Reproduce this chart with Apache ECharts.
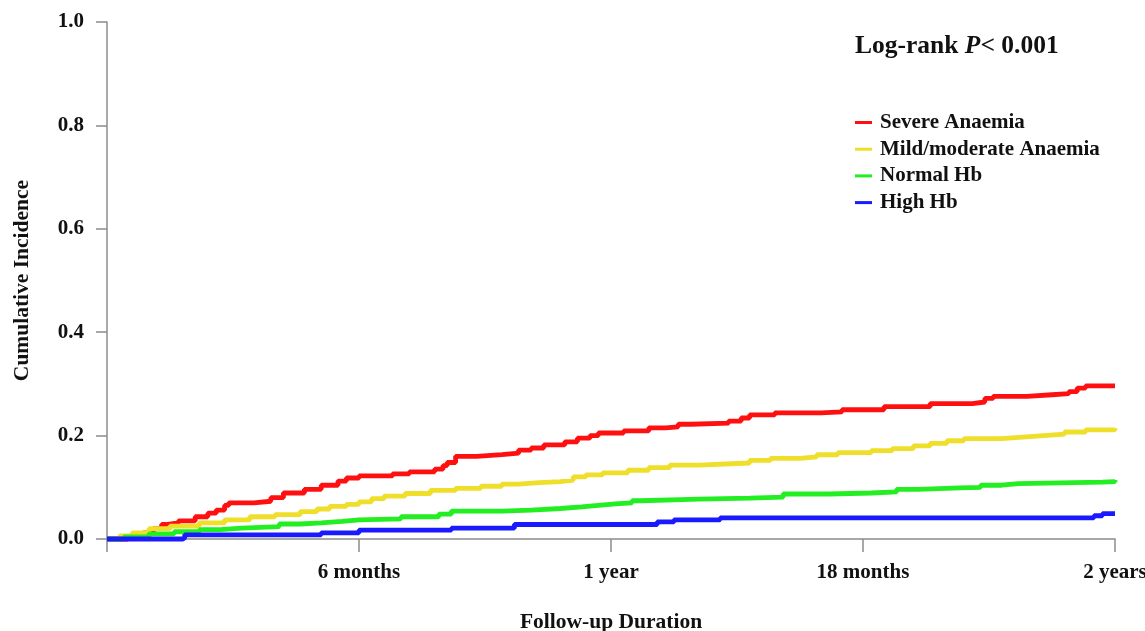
<!DOCTYPE html>
<html>
<head>
<meta charset="utf-8">
<script src="https://cdn.jsdelivr.net/npm/echarts@6/dist/echarts.min.js"></script>
<style>
html,body{margin:0;padding:0;background:#fff;}
#chart{width:1145px;height:631px;}
</style>
</head>
<body>
<div id="chart"></div>
<script>
// ---- data (month, cumulative incidence) ----
const seriesNames = ['Severe Anaemia', 'Mild/moderate Anaemia', 'Normal Hb', 'High Hb'];
const xTickLabels = ['', '6 months', '1 year', '18 months', '2 years'];
const yTickLabels = ['0.0', '0.2', '0.4', '0.6', '0.8', '1.0'];

const severe = [
  [0,0],[0.5,0.004],[0.86,0.012],[1.1,0.02],[1.3,0.028],[1.4,0.031],[1.7,0.035],[2.1,0.043],
  [2.4,0.05],[2.6,0.056],[2.8,0.065],[2.9,0.07],[3.5,0.073],[3.9,0.08],[4.2,0.089],[4.7,0.096],
  [5.1,0.104],[5.5,0.112],[5.7,0.118],[6.0,0.122],[6.8,0.126],[7.2,0.13],[7.8,0.135],[8.0,0.142],
  [8.1,0.148],[8.3,0.16],[8.8,0.163],[9.4,0.166],[9.8,0.172],[10.1,0.176],[10.4,0.182],[10.9,0.188],
  [11.2,0.195],[11.5,0.2],[11.7,0.205],[12.3,0.209],[12.9,0.215],[13.3,0.217],[13.6,0.222],[13.9,0.224],
  [14.8,0.228],[15.1,0.234],[15.3,0.24],[15.9,0.244],[17.0,0.246],[17.5,0.25],[18.5,0.256],[19.6,0.262],
  [20.6,0.265],[20.9,0.272],[21.1,0.276],[21.9,0.279],[22.5,0.281],[22.9,0.285],[23.1,0.292],[23.3,0.296],
  [24,0.296]
];
const mild = [
  [0,0],[0.3,0.006],[0.6,0.012],[1.0,0.02],[1.5,0.025],[2.2,0.031],[2.8,0.037],[3.4,0.043],
  [4.0,0.047],[4.6,0.053],[5.0,0.058],[5.3,0.063],[5.7,0.067],[6.0,0.072],[6.3,0.078],[6.6,0.083],
  [7.1,0.088],[7.7,0.094],[8.3,0.098],[8.9,0.102],[9.4,0.106],[9.8,0.109],[10.3,0.111],[10.8,0.114],
  [11.1,0.12],[11.4,0.124],[11.8,0.128],[12.4,0.133],[12.9,0.138],[13.4,0.143],[14.1,0.146],[15.0,0.147],
  [15.3,0.152],[15.8,0.156],[16.5,0.159],[16.9,0.163],[17.4,0.167],[18.2,0.171],[18.7,0.175],[19.2,0.18],
  [19.6,0.185],[20.0,0.19],[20.4,0.194],[21.3,0.197],[21.8,0.2],[22.3,0.203],[22.8,0.207],[23.3,0.211],
  [24,0.214]
];
const normal = [
  [0,0],[0.4,0.004],[1.0,0.01],[1.6,0.014],[2.2,0.018],[2.7,0.021],[3.2,0.024],[4.1,0.029],
  [4.6,0.031],[5.1,0.034],[5.6,0.037],[6.0,0.039],[7.0,0.043],[7.9,0.048],[8.2,0.054],[9.4,0.056],
  [10.1,0.059],[10.8,0.062],[11.3,0.065],[11.7,0.068],[12.1,0.07],[12.5,0.074],[12.7,0.077],[14.1,0.079],
  [15.3,0.081],[16.1,0.087],[17.2,0.089],[18.2,0.091],[18.8,0.096],[19.3,0.099],[20.3,0.1],[20.8,0.104],
  [21.3,0.107],[21.7,0.11],[23.7,0.111],[24,0.114]
];
const high = [
  [0,0],[1.8,0.002],[1.85,0.008],[5.1,0.012],[6.0,0.017],[8.2,0.021],[9.7,0.028],[13.1,0.033],
  [13.5,0.037],[14.6,0.041],[23.5,0.045],[23.7,0.049],[24,0.049]
];
const seriesData = [severe, mild, normal, high];
const seriesColors = ['#ff1010', '#efdf2a', '#22ee22', '#1a1aff'];

const FONT = '"Liberation Serif", "Times New Roman", serif';
const chart = echarts.init(document.getElementById('chart'), null, {renderer: 'canvas'});

chart.setOption({
  backgroundColor: '#ffffff',
  animation: false,
  grid: {left: 107, right: 30, top: 22, bottom: 92, outerBoundsMode: 'none', containLabel: false},
  legend: {
    data: seriesNames,
    orient: 'vertical',
    left: 855,
    top: 112,
    padding: 0,
    icon: 'rect',
    itemWidth: 17,
    itemHeight: 3,
    itemGap: 5.7,
    textStyle: {fontFamily: FONT, fontWeight: 'bold', fontSize: 21, color: '#111', lineHeight: 21, padding: [0,0,0,3]}
  },
  graphic: [{
    type: 'text',
    left: 855,
    top: 33,
    style: {
      text: '{a|Log-rank }{b|P}{a|< 0.001}',
      rich: {
        a: {fontFamily: FONT, fontWeight: 'bold', fontSize: 25.5, fill: '#111'},
        b: {fontFamily: FONT, fontWeight: 'bold', fontStyle: 'italic', fontSize: 25.5, fill: '#111'}
      }
    }
  }],
  xAxis: {
    type: 'value',
    min: 0, max: 24, interval: 6,
    name: 'Follow-up Duration',
    nameLocation: 'middle',
    nameGap: 72,
    nameTextStyle: {fontFamily: FONT, fontWeight: 'bold', fontSize: 21.5, color: '#111'},
    axisLine: {show: true, onZero: false, lineStyle: {color: '#8c8c8c', width: 1.5}},
    axisTick: {show: true, length: 13, lineStyle: {color: '#8c8c8c', width: 1.5}},
    splitLine: {show: false},
    axisLabel: {
      margin: 23,
      fontFamily: FONT, fontWeight: 'bold', fontSize: 21, color: '#111',
      formatter: v => xTickLabels[Math.round(v / 6)] || ''
    }
  },
  yAxis: {
    type: 'value',
    min: 0, max: 1, interval: 0.2,
    name: 'Cumulative Incidence',
    nameLocation: 'middle',
    nameGap: 74,
    nameTextStyle: {fontFamily: FONT, fontWeight: 'bold', fontSize: 21.5, color: '#111'},
    axisLine: {show: true, lineStyle: {color: '#8c8c8c', width: 1.5}},
    axisTick: {show: true, length: 11, lineStyle: {color: '#8c8c8c', width: 1.5}},
    splitLine: {show: false},
    axisLabel: {
      margin: 23,
      fontFamily: FONT, fontWeight: 'bold', fontSize: 21, color: '#111',
      formatter: v => yTickLabels[Math.round(v / 0.2)]
    }
  },
  series: seriesNames.map((name, i) => ({
    name: name,
    type: 'line',
    step: 'end',
    data: seriesData[i],
    showSymbol: false,
    symbol: 'none',
    color: seriesColors[i],
    lineStyle: {color: seriesColors[i], width: 4.8},
    clip: false
  }))
});
</script>
</body>
</html>
